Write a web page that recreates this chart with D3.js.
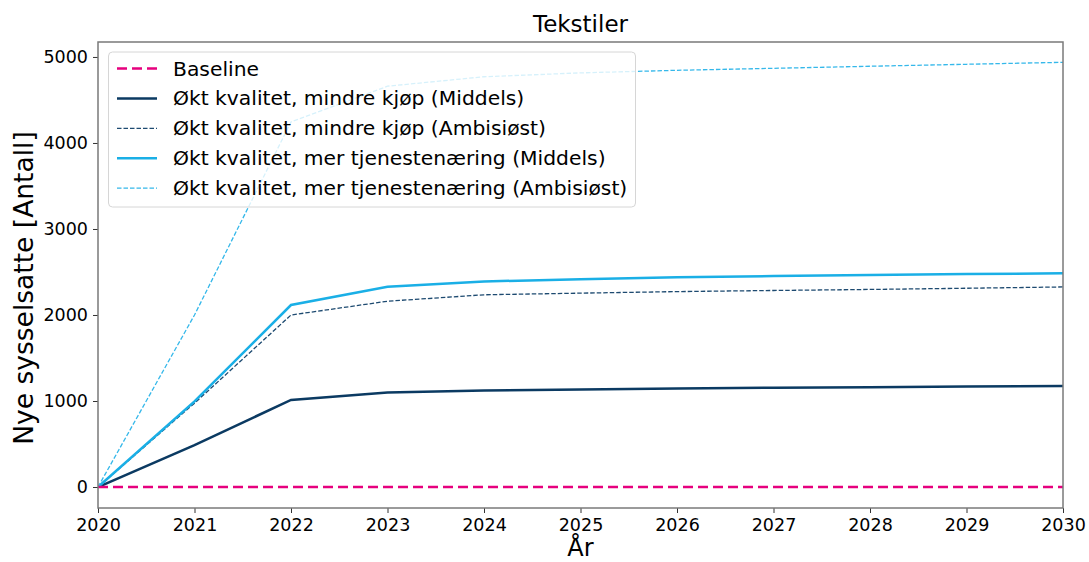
<!DOCTYPE html>
<html>
<head>
<meta charset="utf-8">
<script src="https://cdn.jsdelivr.net/npm/d3@7"></script>
<style>
  body { margin: 0; background: white; }
  text { font-family: "DejaVu Sans", sans-serif; fill: #000; }
</style>
</head>
<body>
<script>
    // data
    years = [2020, 2021, 2022, 2023, 2024, 2025, 2026, 2027, 2028, 2029, 2030]
    baseline = [0, 0, 0, 0, 0, 0, 0, 0, 0, 0, 0]
    mindreMiddels = [0, 488, 1012, 1098, 1122, 1134, 1145, 1155, 1161, 1168, 1174]
    mindreAmbisiost = [0, 975, 2000, 2160, 2235, 2254, 2272, 2285, 2297, 2311, 2326]
    tjenesteMiddels = [0, 995, 2116, 2328, 2390, 2416, 2438, 2453, 2465, 2476, 2485]
    tjenesteAmbisiost = [0, 2000, 4245, 4660, 4770, 4815, 4845, 4868, 4892, 4915, 4938]
    yTicks = [0, 1000, 2000, 3000, 4000, 5000]

    series = [
        {name: "Baseline", values: baseline, color: "#e6007e", width: 2.5, dash: "10,5"},
        {name: "Økt kvalitet, mindre kjøp (Middels)", values: mindreMiddels, color: "#0b3a62", width: 2.5, dash: null},
        {name: "Økt kvalitet, mindre kjøp (Ambisiøst)", values: mindreAmbisiost, color: "#1d4a70", width: 1.3, dash: "4.5,2"},
        {name: "Økt kvalitet, mer tjenestenæring (Middels)", values: tjenesteMiddels, color: "#1aafe6", width: 2.5, dash: null},
        {name: "Økt kvalitet, mer tjenestenæring (Ambisiøst)", values: tjenesteAmbisiost, color: "#35b8ea", width: 1.3, dash: "4.5,2"}
    ]

    width = 1089
    height = 562
    plotLeft = 98
    plotRight = 1063
    plotTop = 42
    plotBottom = 508

    var x = d3.scaleLinear().domain([2020, 2030]).range([plotLeft, plotRight])
    var y = d3.scaleLinear().domain([-244, 5174]).range([plotBottom, plotTop])

    var svg = d3.select("body")
        .append("svg")
        .attr("width", width)
        .attr("height", height)

    // lines
    var line = d3.line()
        .x(function (d, i) { return x(years[i]) })
        .y(function (d) { return y(d) })

    svg.append("defs").append("clipPath").attr("id", "clip")
        .append("rect")
        .attr("x", plotLeft).attr("y", plotTop)
        .attr("width", plotRight - plotLeft).attr("height", plotBottom - plotTop)

    // draw in the order so baseline sits on top like the reference
    var drawOrder = [1, 2, 3, 4, 0]
    drawOrder.forEach(function (k) {
        var s = series[k]
        svg.append("path")
            .attr("d", line(s.values))
            .attr("clip-path", "url(#clip)")
            .attr("fill", "none")
            .attr("stroke", s.color)
            .attr("stroke-width", s.width)
            .attr("stroke-dasharray", s.dash)
    })

    // axes
    var xAxis = d3.axisBottom(x).tickValues(years).tickFormat(d3.format("d")).tickSize(5).tickPadding(6)
    var yAxis = d3.axisLeft(y).tickValues(yTicks).tickFormat(d3.format("d")).tickSize(5).tickPadding(5)

    var gx = svg.append("g").attr("transform", "translate(0," + plotBottom + ")").call(xAxis)
    var gy = svg.append("g").attr("transform", "translate(" + plotLeft + ",0)").call(yAxis)

    ;[gx, gy].forEach(function (g) {
        g.select(".domain").remove()
        g.selectAll(".tick line").attr("stroke", "#333").attr("stroke-width", 1)
        g.selectAll(".tick text")
            .attr("font-size", "17.5px")
            .attr("font-family", "DejaVu Sans")
            .attr("fill", "#000")
    })

    // frame
    svg.append("rect")
        .attr("x", plotLeft)
        .attr("y", plotTop)
        .attr("width", plotRight - plotLeft)
        .attr("height", plotBottom - plotTop)
        .attr("fill", "none")
        .attr("stroke", "#7a7a7a")
        .attr("stroke-width", 1.5)

    // title and axis labels
    svg.append("text")
        .text("Tekstiler")
        .attr("x", (plotLeft + plotRight) / 2)
        .attr("y", 32)
        .attr("text-anchor", "middle")
        .attr("font-size", "23px")

    svg.append("text")
        .text("År")
        .attr("x", (plotLeft + plotRight) / 2)
        .attr("y", 556)
        .attr("text-anchor", "middle")
        .attr("font-size", "24px")

    svg.append("text")
        .text("Nye sysselsatte [Antall]")
        .attr("transform", "translate(33,288) rotate(-90)")
        .attr("text-anchor", "middle")
        .attr("font-size", "26.5px")

    // legend
    var legend = svg.append("g")
    legend.append("rect")
        .attr("x", 108.5)
        .attr("y", 52)
        .attr("width", 527)
        .attr("height", 155)
        .attr("rx", 4)
        .attr("fill", "white")
        .attr("fill-opacity", 0.8)
        .attr("stroke", "#d6d6d6")
        .attr("stroke-width", 1)

    var items = legend.selectAll(".item")
        .data(series)
        .enter()
        .append("g")
        .attr("class", "item")
        .attr("transform", function (d, i) { return "translate(0," + (68.5 + i * 29.9) + ")" })

    items.append("line")
        .attr("x1", 117).attr("x2", 157)
        .attr("y1", 0).attr("y2", 0)
        .attr("stroke", function (d) { return d.color })
        .attr("stroke-width", function (d) { return d.width })
        .attr("stroke-dasharray", function (d) { return d.dash })

    items.append("text")
        .text(function (d) { return d.name })
        .attr("x", 173)
        .attr("y", 7)
        .attr("font-size", "20.3px")
</script>
</body>
</html>
